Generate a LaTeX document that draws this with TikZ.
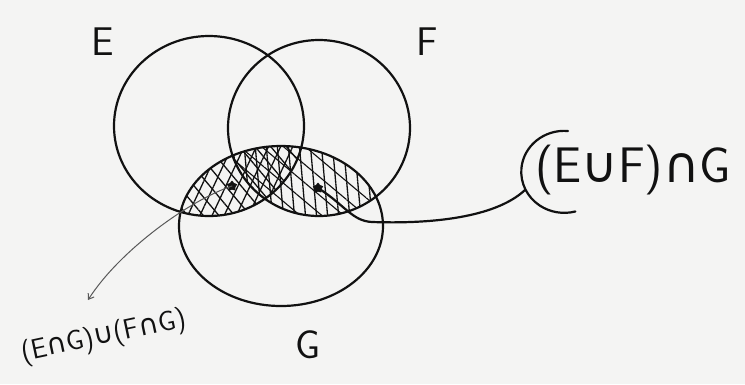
\documentclass[tikz,border=0pt]{standalone}
\usepackage{fontspec}
\newfontfamily\symf{DejaVu Sans}
\usetikzlibrary{patterns.meta,shapes.geometric,arrows.meta}
\definecolor{paper}{HTML}{F4F4F3}
\definecolor{pen}{HTML}{111111}
\newcommand{\myU}{{\symf ∪}}
\newcommand{\myN}{{\symf ∩}}
\begin{document}
\begin{tikzpicture}[x=1pt,y=-1pt,
  ink/.style={line width=2.2pt, line cap=round, draw=pen},
  thinink/.style={line width=1pt, line cap=round, draw=pen!70},
  setshape/.style={ellipse, ink, inner sep=0pt},
  blob/.style={star, star points=5, fill=pen, minimum size=11pt, inner sep=0pt},
  hand/.style={text=pen, inner sep=0pt}]
\useasboundingbox (0,0) rectangle (745,384);
\fill[paper] (0,0) rectangle (745,384);

% hatching of G cap (E union F)
\begin{scope}
  \clip (281,226) ellipse [x radius=102, y radius=80];
  \fill[pattern={Lines[angle=65,distance=11pt,line width=1.3pt]}, pattern color=pen]
    (209,126) ellipse [x radius=95, y radius=90];
  \fill[pattern={Lines[angle=-50,distance=12pt,line width=1.3pt]}, pattern color=pen]
    (209,126) ellipse [x radius=95, y radius=90];
  \fill[pattern={Lines[angle=95,distance=11pt,line width=1.3pt]}, pattern color=pen]
    (319,128) ellipse [x radius=91, y radius=88];
  \fill[pattern={Lines[angle=-40,distance=14pt,line width=1.1pt]}, pattern color=pen]
    (319,128) ellipse [x radius=91, y radius=88];
\end{scope}

% the three sets
\node[setshape, draw, minimum width=190pt, minimum height=180pt] (E) at (209,126) {};
\node[setshape, draw, minimum width=182pt, minimum height=176pt] (F) at (319,128) {};
\node[setshape, draw, minimum width=204pt, minimum height=160pt] (G) at (281,226) {};

% set labels
\node[hand, font=\sffamily\fontsize{40}{40}\selectfont] (Elbl) at (103,42) {E};
\node[hand, font=\sffamily\fontsize{40}{40}\selectfont] (Flbl) at (427,42) {F};
\node[hand, font=\sffamily\fontsize{40}{40}\selectfont] (Glbl) at (308,345) {G};

% marks inside the shaded region
\node[blob] (s1) at (232,186) {};
\node[blob] (s2) at (318,188) {};

% right label
\node[hand, font=\sffamily\fontsize{50}{50}\selectfont, anchor=west] (rlbl) at (535,170)
  {(E\myU F)\myN G};
\coordinate (lassoTop) at (568,131);
\draw[ink] (lassoTop) arc [start angle=-85, end angle=-285, x radius=43, y radius=41];
\coordinate (rEnd) at (525,190);
\coordinate (rMid) at (372,222);
\draw[ink] (s2.center) .. controls (345,205) and (352,221) .. (rMid)
  .. controls (430,224) and (495,218) .. (rEnd);

% left label
\node[hand, rotate=12, font=\sffamily\fontsize{28}{28}\selectfont] (llbl) at (104,337)
  {(E\myN G)\myU(F\myN G)};
\coordinate (lEnd) at (88,300);
\draw[thinink, -{Straight Barb[length=5pt,width=7pt]}] (s1.center)
  .. controls (190,200) and (120,250) .. (lEnd);
\end{tikzpicture}
\end{document}
